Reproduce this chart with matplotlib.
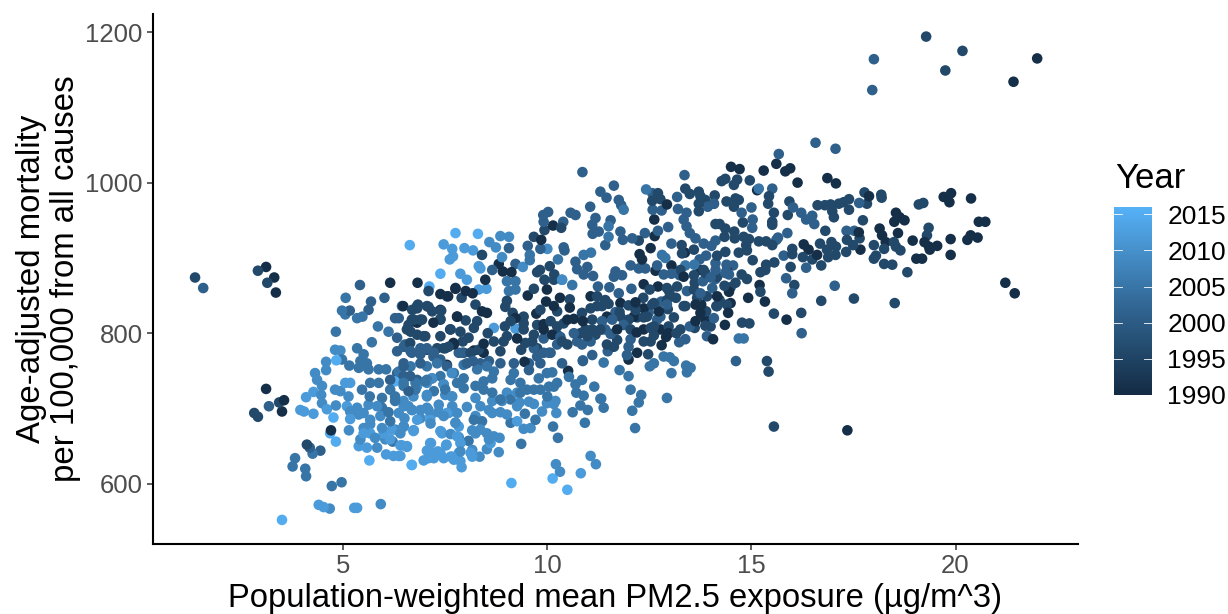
import numpy as np
import matplotlib

matplotlib.use("Agg")
import matplotlib.pyplot as plt
from matplotlib.cm import ScalarMappable
from matplotlib.colors import LinearSegmentedColormap, Normalize

# (pm2.5, mortality), grouped by the nearest year shade
pts_1991 = [
    (22.0, 1165), (21.42, 1134), (21.22, 867), (21.45, 853), (20.57, 948), (20.73, 948), (20.37, 930),
    (20.29, 924), (20.54, 927), (20.38, 979), (19.71, 981), (19.89, 986), (19.85, 974), (19.88, 925),
    (19.88, 904), (19.55, 916), (19.37, 911), (19.35, 915), (19.24, 921), (18.95, 923), (19.04, 899),
    (19.18, 899), (18.63, 954), (18.75, 950), (18.5, 948), (18.54, 960), (18.59, 933), (18.29, 921),
    (18.14, 939), (18.2, 930), (17.88, 982), (17.63, 934), (17.67, 911), (16.86, 1006), (17.07, 999),
    (15.95, 1019), (15.83, 1015), (16.13, 1000), (16.28, 918), (16.4, 911), (16.61, 904), (15.86, 818),
    (15.61, 1025), (15.3, 1016), (14.5, 1021), (14.71, 1018), (15.14, 990), (12.93, 971), (12.62, 951),
    (12.63, 929), (12.53, 913), (12.26, 905), (12.32, 898), (13.04, 890), (12.65, 883), (12.36, 865),
    (12.71, 862), (12.16, 841), (12.36, 833), (13.37, 907), (15.2, 864), (15.33, 842), (14.92, 847),
    (14.45, 855), (14.49, 840), (14.43, 827), (14.35, 811), (13.63, 838), (13.77, 838), (12.19, 801),
    (12.91, 795), (12.8, 784), (12.2, 774), (11.99, 765), (14.06, 792), (13.63, 816), (13.87, 819),
    (6.15, 867), (6.82, 867), (7.75, 859), (8.0, 856), (8.17, 853), (8.48, 871), (8.81, 892), (8.91, 882),
    (9.12, 881), (9.52, 850), (9.99, 858), (10.31, 847), (10.55, 834), (9.97, 842), (9.73, 826),
    (10.16, 836), (8.52, 827), (8.4, 829), (7.79, 822), (8.2, 777), (8.44, 786), (8.44, 774), (9.26, 793),
    (9.91, 812), (10.65, 819), (10.87, 816), (9.44, 762), (10.51, 750), (7.71, 785), (7.38, 852),
    (7.57, 849), (10.14, 943), (9.85, 924), (10.12, 798), (3.11, 726), (3.31, 874), (3.11, 888),
    (3.35, 854), (3.5, 696), (3.55, 711), (4.7, 671), (17.35, 671), (6.47, 836), (6.81, 814),
    (7.75, 860), (7.38, 831), (7.38, 818), (7.79, 822), (7.62, 805), (7.21, 814), (7.7, 787), (7.54, 758),
    (11.46, 822), (12.12, 822), (12.73, 829), (12.36, 805), (12.77, 805), (11.71, 805), (12.97, 800),
    (13.34, 875), (13.75, 884), (14.16, 849), (13.75, 827), (11.79, 840), (9.22, 820), (9.91, 805),
    (10.49, 818), (11.06, 849),
]
pts_1996 = [
    (19.28, 1194), (20.17, 1175), (19.75, 1149), (17.14, 972), (16.62, 970), (16.8, 970), (16.94, 971),
    (17.26, 974), (17.39, 978), (17.77, 987), (17.83, 972), (18.18, 984), (18.19, 980), (17.02, 954),
    (16.98, 962), (17.39, 964), (15.93, 975), (15.89, 957), (17.73, 950), (16.81, 936), (17.65, 926),
    (18.54, 915), (18.65, 910), (18.49, 921), (18.25, 912), (18.0, 917), (19.1, 971), (19.21, 973),
    (19.34, 940), (19.3, 930), (18.82, 881), (18.51, 840), (17.51, 846), (16.71, 843), (16.71, 890),
    (18.0, 899), (18.05, 903), (18.25, 892), (18.45, 891), (16.0, 912), (16.0, 905), (16.26, 901),
    (16.49, 898), (16.68, 919), (16.85, 911), (16.88, 901), (17.07, 915), (17.06, 904), (16.96, 921),
    (17.32, 908), (17.34, 924), (17.49, 917), (16.05, 864), (15.96, 888), (16.22, 827), (14.96, 1003),
    (14.65, 1004), (14.57, 997), (14.36, 1005), (14.27, 1002), (15.43, 982), (15.41, 972), (15.55, 960),
    (15.51, 948), (15.51, 944), (13.38, 992), (13.49, 985), (13.71, 988), (13.75, 982), (13.87, 977),
    (14.1, 983), (14.08, 972), (13.71, 972), (13.71, 962), (14.39, 975), (14.61, 979), (14.69, 977),
    (14.57, 968), (14.79, 947), (14.22, 945), (14.36, 939), (14.12, 945), (14.58, 935), (14.34, 928),
    (14.59, 926), (14.81, 928), (14.94, 925), (15.18, 922), (15.36, 922), (15.51, 917), (14.87, 917),
    (14.89, 910), (14.69, 907), (14.36, 908), (14.16, 903), (13.59, 911), (13.29, 917), (13.3, 906),
    (12.77, 978), (12.57, 976), (12.71, 986), (12.24, 923), (15.03, 897), (15.36, 891), (15.56, 894),
    (15.34, 884), (15.22, 881), (15.22, 855), (14.76, 878), (14.89, 872), (14.61, 867), (14.49, 861),
    (14.34, 863), (14.22, 844), (14.16, 836), (14.4, 838), (14.77, 814), (14.95, 813), (15.55, 826),
    (13.59, 877), (13.87, 880), (13.61, 867), (13.67, 847), (13.15, 847), (12.99, 855), (12.93, 860),
    (12.51, 858), (12.35, 847), (11.99, 837), (11.5, 839), (11.34, 836), (12.61, 840), (12.57, 838),
    (12.95, 832), (13.38, 836), (13.89, 829), (14.14, 836), (11.77, 828), (12.2, 821), (12.36, 821),
    (11.99, 818), (13.1, 821), (12.53, 807), (12.97, 809), (13.87, 810), (13.61, 807), (13.16, 800),
    (12.61, 797), (12.53, 789), (12.36, 789), (11.71, 791), (11.46, 785), (11.63, 782), (12.47, 772),
    (15.38, 763), (15.42, 749), (15.55, 676), (1.37, 874), (2.91, 883), (3.14, 867), (2.82, 694),
    (2.91, 689), (3.43, 708), (4.11, 652), (10.34, 940), (9.93, 937), (9.67, 928), (10.06, 889),
    (9.82, 884), (9.75, 881), (10.17, 878), (10.16, 871), (9.93, 871), (8.4, 904), (7.9, 847), (8.24, 838),
    (9.01, 843), (8.97, 835), (9.67, 859), (10.55, 845), (9.15, 827), (9.42, 822), (8.0, 817), (8.28, 816),
    (8.2, 807), (8.96, 809), (10.4, 813), (11.1, 818), (8.54, 800), (8.85, 776), (9.63, 789), (9.36, 778),
    (7.93, 789), (7.63, 805), (7.87, 802), (8.07, 794), (7.38, 796), (7.5, 780), (6.97, 796), (6.65, 802),
    (6.69, 831), (6.81, 833), (7.09, 835), (7.4, 830), (7.38, 819), (7.18, 829), (6.93, 818), (6.83, 838),
    (6.81, 836), (7.05, 836), (6.89, 818), (6.68, 818), (6.6, 811), (6.64, 787), (6.81, 798), (7.01, 796),
    (7.46, 780), (7.05, 778), (7.09, 856), (7.54, 849), (6.73, 818), (6.56, 805), (7.3, 780), (7.58, 782),
    (7.95, 774), (8.12, 774), (8.32, 778), (8.69, 789), (8.93, 789), (9.01, 796), (9.46, 787), (9.75, 780),
    (10.36, 789), (10.49, 785), (10.81, 800), (10.98, 796), (11.18, 798), (11.3, 805), (10.93, 805),
    (10.24, 798), (9.67, 798), (9.42, 805), (9.1, 816), (9.42, 813), (9.75, 811), (10.08, 816), (10.24, 809),
    (9.83, 831), (10.24, 829), (10.85, 827), (11.06, 833), (11.22, 836), (11.22, 849), (11.1, 805),
    (11.79, 822), (12.44, 822), (11.34, 805), (12.04, 805), (12.61, 809), (11.42, 844), (12.16, 831),
    (12.93, 844), (13.18, 862), (13.26, 884), (13.83, 884), (14.16, 875), (14.4, 884), (13.59, 858),
    (13.91, 849), (13.34, 836), (14.0, 809), (13.26, 805),
]
pts_2001 = [
    (18.0, 1164), (17.96, 1123), (16.57, 1053), (17.06, 1045), (17.64, 973), (16.02, 967), (16.22, 960),
    (16.34, 951), (16.49, 956), (16.54, 945), (17.33, 936), (17.52, 936), (15.88, 933), (16.34, 887),
    (15.85, 873), (16.0, 853), (17.04, 863), (16.23, 800), (15.79, 903), (15.67, 1038), (15.51, 992),
    (13.36, 1010), (14.08, 972), (13.93, 968), (14.76, 960), (15.0, 967), (15.03, 951), (15.02, 940),
    (15.65, 927), (15.61, 924), (14.02, 916), (14.12, 923), (13.83, 919), (13.04, 919), (12.96, 941),
    (12.71, 936), (12.39, 933), (12.08, 926), (11.79, 935), (11.85, 924), (11.55, 950), (11.42, 917),
    (11.63, 996), (11.45, 980), (11.75, 977), (11.81, 970), (12.57, 986), (12.58, 964), (12.8, 963),
    (13.18, 981), (13.2, 965), (13.41, 960), (13.34, 951), (13.41, 942), (13.49, 933), (13.63, 926),
    (12.04, 890), (12.24, 886), (12.4, 886), (12.69, 890), (13.24, 877), (13.04, 879), (12.85, 878),
    (13.89, 903), (13.73, 898), (14.12, 893), (14.12, 884), (14.39, 891), (14.55, 890), (14.36, 880),
    (14.45, 878), (14.0, 874), (14.12, 872), (13.81, 869), (14.04, 860), (13.42, 856), (13.75, 853),
    (12.06, 859), (11.75, 853), (11.52, 861), (11.63, 875), (11.67, 882), (11.83, 877), (12.79, 842),
    (12.93, 838), (11.67, 828), (11.34, 816), (11.42, 805), (11.59, 818), (11.87, 811), (12.48, 827),
    (12.77, 822), (12.69, 818), (14.08, 820), (13.49, 809), (13.91, 796), (13.38, 792), (13.23, 788),
    (12.04, 792), (11.55, 799), (11.99, 782), (11.95, 771), (11.48, 776), (14.62, 763), (1.57, 860),
    (3.18, 703), (4.18, 648), (4.44, 644), (5.41, 864), (5.68, 842), (6.01, 847), (6.44, 836), (6.27, 820),
    (6.36, 820), (5.16, 830), (5.62, 831), (6.32, 794), (6.52, 785), (6.32, 776), (9.91, 948), (10.86, 1014),
    (11.3, 988), (11.05, 968), (10.69, 957), (10.57, 960), (11.18, 953), (10.39, 948), (10.02, 961),
    (9.9, 957), (11.1, 944), (11.26, 935), (11.11, 932), (9.52, 916), (9.83, 912), (10.4, 914), (10.42, 910),
    (10.69, 895), (10.73, 885), (10.98, 888), (10.89, 878), (11.12, 876), (11.24, 862), (9.22, 892),
    (8.65, 884), (9.06, 913), (10.65, 800), (10.32, 795), (10.73, 789), (11.06, 789), (10.85, 785),
    (11.1, 771), (10.87, 763), (10.36, 760), (9.55, 751), (9.91, 793), (9.67, 780), (10.24, 785),
    (8.18, 763), (8.57, 763), (7.83, 774), (7.91, 774), (7.22, 774), (6.89, 780), (7.54, 756), (6.89, 760),
    (6.48, 756), (9.83, 760), (9.75, 769), (10.04, 774), (6.48, 782), (6.68, 774), (7.21, 769), (6.89, 772),
    (6.48, 760), (7.38, 765), (6.64, 743), (6.81, 738), (6.6, 723), (6.15, 738), (6.32, 747), (6.48, 743),
    (6.52, 782), (6.65, 776), (6.89, 774), (7.05, 780), (9.91, 774), (10.08, 774), (8.03, 760), (8.36, 760),
    (8.85, 760), (9.18, 760), (9.55, 760),
]
pts_2005 = [
    (15.18, 992), (14.69, 793), (14.81, 793), (12.42, 991), (13.38, 890), (13.6, 891), (12.81, 904),
    (12.89, 900), (11.5, 942), (11.5, 928), (11.87, 964), (11.38, 761), (11.77, 751), (11.99, 743),
    (13.04, 747), (13.4, 757), (13.51, 754), (13.42, 748), (12.85, 769), (13.0, 768), (13.1, 763),
    (12.61, 760), (12.51, 756), (12.04, 725), (12.3, 718), (12.24, 708), (12.93, 714), (12.08, 697),
    (11.38, 701), (11.32, 713), (12.15, 674), (5.06, 847), (4.97, 830), (5.05, 825), (5.34, 820), (5.47, 822),
    (5.85, 809), (4.82, 802), (6.11, 802), (5.7, 788), (5.34, 780), (5.5, 772), (4.97, 765), (5.15, 757),
    (5.42, 763), (5.62, 752), (5.87, 752), (6.05, 752), (6.36, 749), (9.57, 904), (9.57, 897), (10.26, 898),
    (10.36, 871), (10.61, 864), (10.89, 904), (11.07, 907), (9.22, 869), (9.01, 869), (9.06, 856), (9.22, 858),
    (10.87, 764), (10.53, 742), (10.12, 748), (10.85, 738), (10.69, 732), (11.15, 729), (10.71, 721),
    (10.89, 717), (11.3, 713), (10.62, 695), (10.81, 704), (10.99, 698), (10.92, 681), (9.1, 681),
    (9.36, 653), (8.07, 657), (8.4, 683), (8.2, 685), (7.71, 747), (8.28, 752), (8.69, 749), (9.1, 738),
    (9.34, 734), (9.67, 725), (10.04, 729), (10.24, 734), (9.5, 725), (7.18, 740), (7.46, 732), (7.95, 740),
    (8.44, 736), (8.65, 740), (8.44, 725), (7.95, 727), (7.5, 725), (7.22, 723), (7.01, 736), (6.77, 725),
    (5.38, 754), (5.66, 734), (5.87, 734), (5.46, 725), (5.95, 714), (5.65, 716), (6.15, 725), (6.27, 710),
    (6.11, 695), (5.95, 701), (6.15, 683), (6.21, 656), (9.45, 693), (9.71, 685), (10.14, 676), (10.26, 661),
    (4.25, 640), (3.82, 634), (3.76, 623), (4.07, 620), (4.09, 610), (4.96, 602), (4.72, 597),
    (5.42, 756), (5.58, 760), (6.27, 716), (6.48, 730), (9.18, 747), (9.79, 740), (9.99, 747), (10.16, 729),
    (9.83, 725), (10.0, 716), (9.34, 721), (9.1, 712), (8.85, 712), (8.65, 721), (8.24, 730), (7.79, 734),
    (7.38, 743), (7.05, 738), (6.77, 734), (6.48, 734), (6.65, 756), (7.05, 756), (7.3, 760), (7.95, 758),
    (8.52, 756),
]
pts_2009 = [
    (4.8, 778), (4.93, 777), (4.58, 762), (4.58, 751), (4.31, 747), (4.36, 738), (4.48, 730), (4.46, 718),
    (4.48, 707), (4.82, 704), (4.8, 725), (4.93, 723), (5.13, 716), (5.34, 701), (5.62, 705), (5.91, 690),
    (6.36, 694), (6.5, 687), (5.38, 692), (5.66, 685), (5.66, 679), (5.95, 674), (6.27, 672), (6.48, 676),
    (5.5, 674), (5.14, 671), (5.42, 659), (5.78, 661), (6.03, 659), (6.4, 667), (5.83, 648), (5.92, 573),
    (4.67, 567), (9.99, 707), (10.2, 710), (10.16, 706), (9.55, 709), (9.67, 706), (9.32, 708), (8.89, 710),
    (8.65, 710), (8.24, 714), (9.26, 721), (9.01, 721), (7.05, 716), (7.67, 716), (6.69, 698), (7.34, 705),
    (8.03, 702), (7.58, 694), (7.79, 694), (7.09, 698), (6.89, 687), (7.14, 680), (8.57, 698), (8.85, 695),
    (9.01, 692), (9.87, 696), (10.22, 694), (9.42, 673), (9.59, 674), (7.75, 681), (8.16, 671), (8.36, 672),
    (6.48, 676), (7.4, 669), (7.63, 666), (7.83, 662), (8.57, 659), (8.83, 661), (8.81, 642), (8.52, 646),
    (8.34, 636), (8.16, 645), (7.87, 643), (10.21, 626), (10.31, 616), (11.06, 637), (11.19, 626),
    (8.85, 929), (9.06, 928), (8.58, 921), (8.74, 914), (8.89, 901), (9.4, 888), (10.36, 871), (10.0, 912),
    (6.81, 730), (7.05, 734), (7.46, 732), (7.66, 747), (7.17, 740), (7.5, 718), (7.66, 716), (6.72, 716),
    (7.05, 718), (6.6, 703), (6.48, 710), (6.89, 698), (7.05, 701), (6.68, 698), (5.17, 696), (5.5, 694),
    (5.83, 703), (7.34, 695), (7.46, 690), (7.67, 703), (8.24, 690), (8.36, 703), (8.65, 694), (9.26, 703),
    (7.14, 690), (6.48, 703), (8.24, 667), (8.69, 663), (8.52, 667),
]
pts_2012 = [
    (4.27, 722), (4.09, 715), (4.6, 699), (5.05, 734), (5.17, 734), (5.09, 703), (5.17, 686), (5.38, 650),
    (5.58, 648), (6.44, 651), (6.56, 650), (6.05, 639), (6.23, 637), (6.36, 637), (6.72, 671), (4.27, 693),
    (4.04, 696), (3.95, 698), (4.4, 572), (4.52, 569), (5.27, 568), (5.34, 568), (6.97, 631), (7.46, 634),
    (7.63, 636), (7.87, 630), (8.16, 636), (7.9, 622), (7.53, 652), (7.15, 654), (7.32, 643), (7.05, 644),
    (6.56, 649), (6.4, 651), (6.4, 637), (6.48, 676), (6.73, 671), (10.82, 614), (9.26, 683), (8.69, 807),
    (9.22, 806), (7.46, 918), (7.67, 912), (7.97, 913), (8.18, 910), (7.61, 898), (7.69, 902), (8.32, 889),
    (8.36, 886), (8.03, 871), (8.32, 858), (8.51, 859), (7.87, 879), (6.81, 685), (7.13, 685), (7.34, 696),
    (7.54, 694), (7.75, 681), (7.79, 663), (7.38, 670), (7.13, 654), (7.52, 651), (7.21, 641), (7.66, 636),
    (7.83, 641), (7.09, 634), (6.19, 672), (5.99, 667), (6.15, 659), (5.66, 667), (5.5, 667), (7.42, 667),
    (7.83, 676), (8.61, 654), (7.87, 654), (8.12, 641), (7.22, 634), (7.38, 641), (7.71, 632),
]
pts_2015 = [
    (3.5, 552), (6.63, 917), (7.75, 933), (8.3, 932), (7.38, 879), (7.11, 862), (6.68, 625), (6.68, 625),
    (5.64, 631), (4.82, 656), (4.68, 667), (4.83, 764), (4.76, 688), (6.27, 736), (9.12, 601), (10.13, 607),
    (10.49, 592), (6.72, 670),
]

band_years = [1991, 1996, 2001, 2005, 2009, 2012, 2015]
band_points = [pts_1991, pts_1996, pts_2001, pts_2005, pts_2009, pts_2012, pts_2015]

pm25 = np.array([p[0] for pts in band_points for p in pts])
mortality = np.array([p[1] for pts in band_points for p in pts])
year = np.array([y for y, pts in zip(band_years, band_points) for _ in pts])

x_ticks = [5, 10, 15, 20]
y_ticks = [600, 800, 1000, 1200]
year_ticks = [1990, 1995, 2000, 2005, 2010, 2015]

plt.rcParams["font.family"] = ["Liberation Sans", "DejaVu Sans"]
W, H = 1228, 614
fig = plt.figure(figsize=(W / 100, H / 100), dpi=100)
ax = fig.add_axes([153 / W, 1 - 544 / H, (1078 - 153) / W, (544 - 14) / H])

cmap = LinearSegmentedColormap.from_list("gg_blue", ["#132B43", "#336A98", "#56B1F7"])
norm = Normalize(1990, 2016)

# mix the shades in draw order, the source draws them unsorted
order = (np.arange(len(pm25)) * 367) % len(pm25)
ax.scatter(pm25[order], mortality[order], c=year[order], cmap=cmap, norm=norm, s=58, linewidths=0, zorder=3, clip_on=False)

ax.set_xlim(0.34, 23.0)
ax.set_ylim(520, 1224)
ax.set_xticks(x_ticks)
ax.set_yticks(y_ticks)
ax.tick_params(labelsize=18.5, labelcolor="#4D4D4D", color="#333333", width=1.1, length=4.5, pad=3)
for side in ("top", "right"):
    ax.spines[side].set_visible(False)
for side in ("left", "bottom"):
    ax.spines[side].set_linewidth(1.5)
ax.set_xlabel("Population-weighted mean PM2.5 exposure (µg/m^3)", fontsize=23.6, labelpad=3)
ax.set_ylabel("Age-adjusted mortality\nper 100,000 from all causes", fontsize=23.8, labelpad=3, linespacing=1.12)

cax = fig.add_axes([1114 / W, 1 - 395 / H, 38 / W, 188 / H])
cb = fig.colorbar(ScalarMappable(norm=norm, cmap=cmap), cax=cax)
cb.outline.set_visible(False)
cb.set_ticks(year_ticks)
cb.ax.tick_params(length=0, labelsize=19, pad=11)
for yr in year_ticks:
    cax.plot([0, 0.2], [yr, yr], color="white", lw=0.6, transform=cax.get_yaxis_transform(), clip_on=False)
    cax.plot([0.8, 1], [yr, yr], color="white", lw=0.6, transform=cax.get_yaxis_transform(), clip_on=False)
fig.text(1115 / W, 1 - 178 / H, "Year", fontsize=25, va="center", ha="left")

fig.savefig("out.png", dpi=100)
